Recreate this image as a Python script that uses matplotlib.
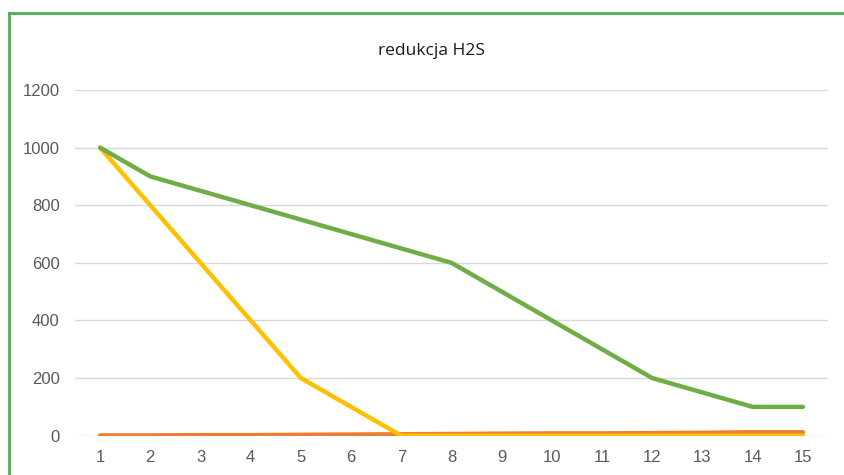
import matplotlib
matplotlib.use("Agg")
import matplotlib.pyplot as plt
from matplotlib.lines import Line2D

days = list(range(1, 16))
green_vals = [1000, 900, 850, 800, 750, 700, 650, 600, 500, 400, 300, 200, 150, 100, 100]
yellow_vals = [1000, 800, 600, 400, 200, 100, 0, 0, 0, 0, 0, 0, 0, 0, 0]
orange_vals = [1, 1, 2, 2, 3, 4, 5, 6, 7, 8, 8, 9, 10, 12, 12]
yticks = [0, 200, 400, 600, 800, 1000, 1200]
title = "redukcja H2S"

W, H = 844, 475
fig = plt.figure(figsize=(W / 100, H / 100), dpi=100)
ax = fig.add_axes([75 / W, (H - 435.7) / H, (828 - 75) / W, (435.7 - 90) / H])

ax.plot(days, orange_vals, color="#ED7D31", lw=3.2, solid_capstyle="round", zorder=3)
ax.plot(days, yellow_vals, color="#FFC000", lw=3.2, solid_capstyle="round", zorder=4)
ax.plot(days, green_vals, color="#70AD47", lw=3.2, solid_capstyle="round", zorder=5)

ax.set_xlim(0.5, 15.5)
ax.set_ylim(0, 1200)
ax.set_yticks(yticks)
ax.set_xticks(days)
ax.set_yticklabels([str(v) for v in yticks])
ax.set_xticklabels([str(d) for d in days])
ax.grid(axis="y", color="#D9D9D9", lw=1)
ax.set_axisbelow(True)
for s in ax.spines.values():
    s.set_visible(False)
ax.tick_params(axis="both", length=0, labelsize=12, labelcolor="#595959")
ax.tick_params(axis="y", pad=11)
ax.tick_params(axis="x", pad=10)
for lab in ax.get_xticklabels() + ax.get_yticklabels():
    lab.set_fontfamily("Liberation Sans")

fig.text(431 / W, 1 - 51 / H, title, ha="center", va="center",
         fontsize=12.5, color="#1a1a1a", family="Open Sans")

# green frame (left and top edges visible)
fig.add_artist(Line2D([9 / W, 9 / W], [0, 1 - 13 / H], transform=fig.transFigure,
                      color="#4CAF50", lw=2, solid_capstyle="projecting"))
fig.add_artist(Line2D([9 / W, 1], [1 - 13 / H, 1 - 13 / H], transform=fig.transFigure,
                      color="#4CAF50", lw=2, solid_capstyle="projecting"))

fig.savefig("out.png", dpi=100)
